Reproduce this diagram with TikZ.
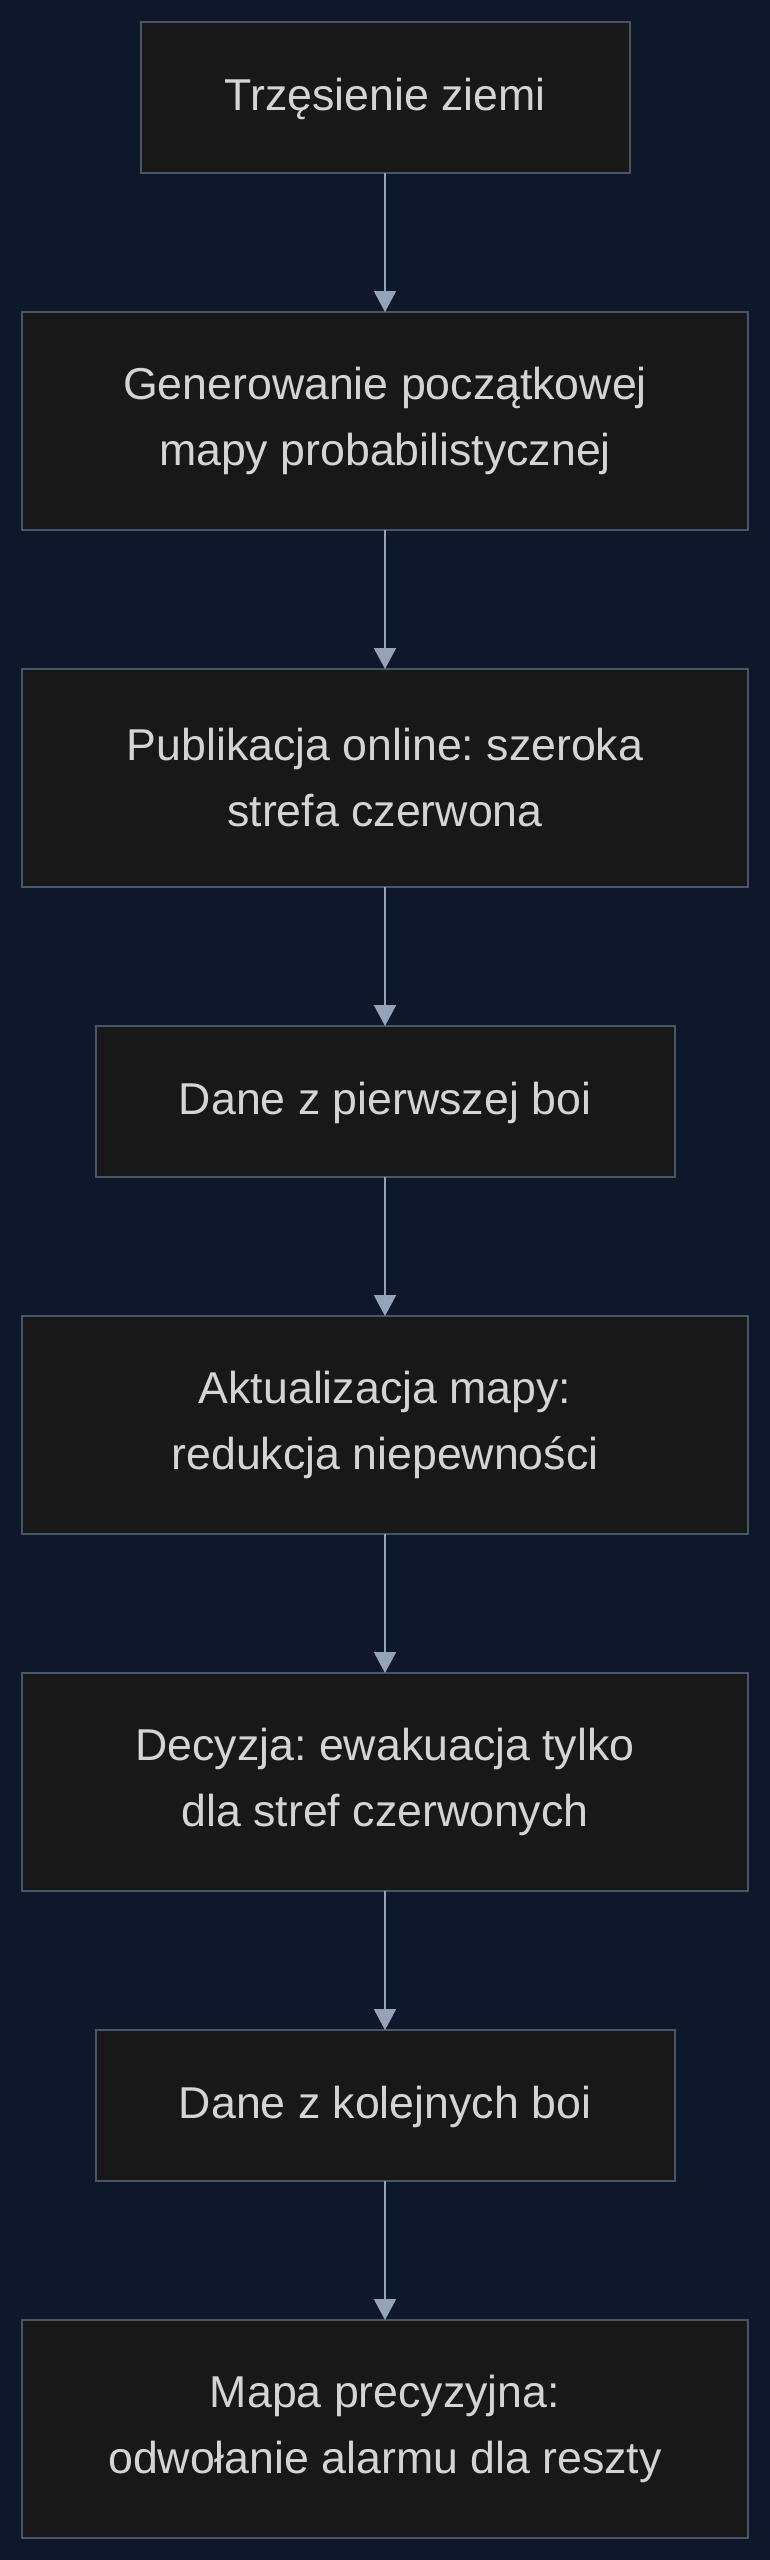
\documentclass[tikz,border=0pt]{standalone}
\usepackage{fontspec}
\setmainfont{Liberation Sans}
\frenchspacing
\usetikzlibrary{positioning,arrows.meta}
\definecolor{bgnavy}{RGB}{15,23,42}
\definecolor{boxfill}{RGB}{24,24,24}
\definecolor{boxline}{RGB}{71,85,105}
\definecolor{arrowgray}{RGB}{148,163,184}
\definecolor{textgray}{RGB}{212,212,212}
\tikzset{
  stepbox/.style={draw=boxline, fill=boxfill, line width=1.5pt, text=textgray,
    align=center, inner sep=0pt, outer sep=0pt, minimum height=113.25pt,
    font=\fontsize{33.5}{49.5}\selectfont},
  shortbox/.style={stepbox, text height=26pt, text depth=6pt},
  widebox/.style={stepbox, minimum width=544.5pt, minimum height=163.5pt},
  flowarrow/.style={draw=arrowgray, line width=1.5pt,
    -{Triangle[width=16.5pt,length=15.75pt]}}
}
\begin{document}
\begin{tikzpicture}
                % Drawing background
                \fill [bgnavy] (0,0) rectangle (577.5pt,-1920pt);%
                \useasboundingbox (0,0) rectangle (577.5pt,-1920pt);%
                
                % Drawing box quake
                \node [shortbox, minimum width=366.75pt, anchor=north] (quake) at (288.75pt,-16.5pt) {Trzęsienie ziemi};%
                
                % Drawing box initmap
                \node [widebox, below=104.25pt of quake] (initmap) {Generowanie początkowej\\mapy probabilistycznej};%
                
                % Drawing box online
                \node [widebox, below=104.25pt of initmap] (online) {Publikacja online: szeroka\\strefa czerwona};%
                
                % Drawing box firstbuoy
                \node [shortbox, minimum width=434.25pt, below=104.25pt of online] (firstbuoy) {Dane z pierwszej boi};%
                
                % Drawing box update
                \node [widebox, below=104.25pt of firstbuoy] (update) {Aktualizacja mapy:\\redukcja niepewności};%
                
                % Drawing box decision
                \node [widebox, below=104.25pt of update] (decision) {Decyzja: ewakuacja tylko\\dla stref czerwonych};%
                
                % Drawing box nextbuoys
                \node [shortbox, minimum width=434.25pt, below=104.25pt of decision] (nextbuoys) {Dane z kolejnych boi};%
                
                % Drawing box precise
                \node [widebox, below=104.25pt of nextbuoys] (precise) {Mapa precyzyjna:\\odwołanie alarmu dla reszty};%
                
                % Drawing arrows
                \draw [flowarrow] (quake) -- (initmap);%
                \draw [flowarrow] (initmap) -- (online);%
                \draw [flowarrow] (online) -- (firstbuoy);%
                \draw [flowarrow] (firstbuoy) -- (update);%
                \draw [flowarrow] (update) -- (decision);%
                \draw [flowarrow] (decision) -- (nextbuoys);%
                \draw [flowarrow] (nextbuoys) -- (precise);%
\end{tikzpicture}
\end{document}
